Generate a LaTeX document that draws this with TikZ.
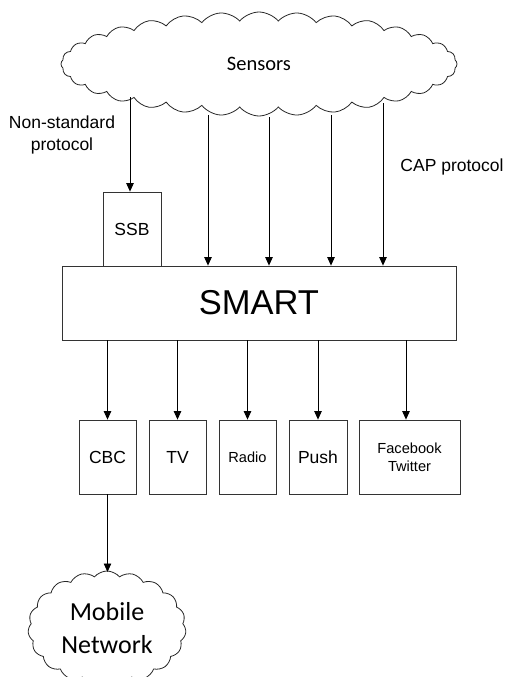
\documentclass[tikz,border=0pt]{standalone}
\usepackage{fontspec}
\setmainfont{Liberation Sans}
\newfontfamily\calfont{Carlito}
\usetikzlibrary{shapes.symbols,arrows.meta}
\begin{document}
\begin{tikzpicture}[x=1pt,y=-1pt,
  box/.style={draw=black!80, line width=0.8pt, inner sep=0pt, align=center},
  arr/.style={draw, line width=0.8pt, -{Triangle[length=8.5pt,width=7.5pt]}},
  cloudshape/.style={cloud, draw=black!85, line width=0.8pt, cloud ignores aspect, cloud puff arc=100, align=center, inner sep=0pt},
  lbl/.style={font=\fontsize{17.5}{21.5}\selectfont, align=center, inner sep=0pt},
  big/.style={font=\fontsize{17.5}{21}\selectfont},
  small/.style={font=\fontsize{14.6}{17.6}\selectfont}
]
\useasboundingbox (0,0) rectangle (505,677);

% clouds
\node[cloudshape, cloud puffs=32, minimum width=396pt, minimum height=104pt, font=\calfont\fontsize{20.5}{24}\selectfont] (sensors) at (259,64) {Sensors};
\node[cloudshape, cloud puffs=19, minimum width=158pt, minimum height=114pt, font=\calfont\fontsize{26}{33}\selectfont] (mobile) at (107,628) {Mobile\\Network};

% boxes
\node[box, big, minimum width=58pt, minimum height=74pt] (ssb) at (132,229) {SSB};
\node[box, minimum width=394pt, minimum height=74pt, font=\fontsize{34.5}{40}\selectfont] (smart) at (259,303) {SMART};
\node[box, big, minimum width=57pt, minimum height=74pt] (cbc) at (107.5,457) {CBC};
\node[box, big, minimum width=57pt, minimum height=74pt] (tv) at (177.5,457) {TV};
\node[box, small, minimum width=57pt, minimum height=74pt] (radio) at (247.5,457) {Radio};
\node[box, big, minimum width=58pt, minimum height=74pt] (push) at (318,457) {Push};
\node[box, small, minimum width=101pt, minimum height=74pt] (fb) at (409.5,457) {Facebook\\Twitter};

% labels
\node[lbl] (ns) at (62,135) {Non-standard\\protocol};
\node[lbl] (cap) at (452,167) {CAP protocol};

% connector start points on the cloud border
\coordinate (s0) at (130,97);
\coordinate (s1) at (208,115);
\coordinate (s2) at (269,117);
\coordinate (s3) at (331,115);
\coordinate (s4) at (383,103);
\coordinate (f5) at (406,340);
\coordinate (mtop) at (107.5,572);

\draw[arr] (s0) -- (s0 |- ssb.north);
\foreach \s in {s1,s2,s3,s4} \draw[arr] (\s) -- (\s |- smart.north);

\foreach \b in {cbc,tv,radio,push} \draw[arr] (smart.south -| \b.north) -- (\b.north);
\draw[arr] (f5) -- (f5 |- fb.north);
\draw[arr] (cbc.south) -- (mtop);
\end{tikzpicture}
\end{document}
